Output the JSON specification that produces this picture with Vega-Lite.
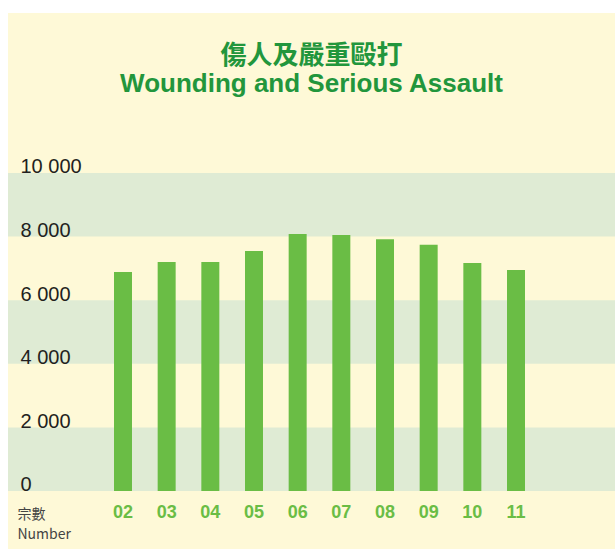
{
  "$schema": "https://vega.github.io/schema/vega-lite/v6.json",
  "width": 607,
  "height": 536,
  "autosize": {"type": "none"},
  "padding": {"left": 8, "top": 13, "right": 0, "bottom": 0},
  "background": "white",
  "config": {"view": {"fill": "#fef9d7", "stroke": null}},
  "title": {
    "text": "傷人及嚴重毆打",
    "subtitle": "Wounding and Serious Assault",
    "orient": "top",
    "anchor": "middle",
    "frame": "group",
    "baseline": "top",
    "offset": -55,
    "dy": 29,
    "font": "Noto Sans CJK TC",
    "fontSize": 26,
    "fontWeight": "bold",
    "color": "#22963c",
    "subtitleFont": "Liberation Sans",
    "subtitleFontSize": 26,
    "subtitleFontWeight": "bold",
    "subtitleColor": "#22963c",
    "subtitlePadding": 2
  },
  "datasets": {
    "bands": [
      {"lo": 0, "hi": 2000},
      {"lo": 4000, "hi": 6000},
      {"lo": 8000, "hi": 10000}
    ],
    "cases": [
      {"year": "02", "count": 6890},
      {"year": "03", "count": 7200},
      {"year": "04", "count": 7200},
      {"year": "05", "count": 7550},
      {"year": "06", "count": 8080},
      {"year": "07", "count": 8050},
      {"year": "08", "count": 7920},
      {"year": "09", "count": 7740},
      {"year": "10", "count": 7170},
      {"year": "11", "count": 6950}
    ]
  },
  "layer": [
    {
      "data": {"name": "bands"},
      "mark": {"type": "rect", "color": "#dfebd4"},
      "encoding": {
        "y": {
          "field": "lo",
          "type": "quantitative",
          "scale": {"domain": [-1824, 15031], "nice": false, "zero": false},
          "axis": {
            "values": [0, 2000, 4000, 6000, 8000, 10000],
            "orient": "left",
            "zindex": 2,
            "domain": false,
            "ticks": false,
            "tickSize": 0,
            "grid": false,
            "labelAlign": "left",
            "labelBaseline": "alphabetic",
            "labelPadding": -12,
            "labelDy": -1,
            "labelOverlap": false,
            "labelFont": "Liberation Sans",
            "labelFontSize": 20,
            "labelColor": "#231f20",
            "labelExpr": "replace(format(datum.value, ','), ',', ' ')",
            "title": ["宗數", "Number"],
            "titleAngle": 0,
            "titleAlign": "left",
            "titleBaseline": "top",
            "titleX": 9,
            "titleY": 494,
            "titleFont": "Noto Sans CJK TC",
            "titleFontSize": 14,
            "titleFontWeight": "normal",
            "titleLineHeight": 20,
            "titleColor": "#444444"
          }
        },
        "y2": {"field": "hi"}
      }
    },
    {
      "data": {"name": "cases"},
      "mark": {"type": "bar", "color": "#6abd45"},
      "encoding": {
        "x": {
          "field": "year",
          "type": "nominal",
          "sort": null,
          "scale": {"paddingInner": 0.588, "paddingOuter": 0, "range": [106, 517]},
          "axis": {
            "title": null,
            "zindex": 2,
            "domain": false,
            "ticks": false,
            "tickSize": 0,
            "labelAngle": 0,
            "labelPadding": -46,
            "labelBaseline": "top",
            "labelFont": "Liberation Sans",
            "labelFontSize": 18,
            "labelFontWeight": "bold",
            "labelColor": "#6abd45"
          }
        },
        "y": {
          "field": "count",
          "type": "quantitative"
        },
        "y2": {"datum": 0}
      }
    }
  ]
}
